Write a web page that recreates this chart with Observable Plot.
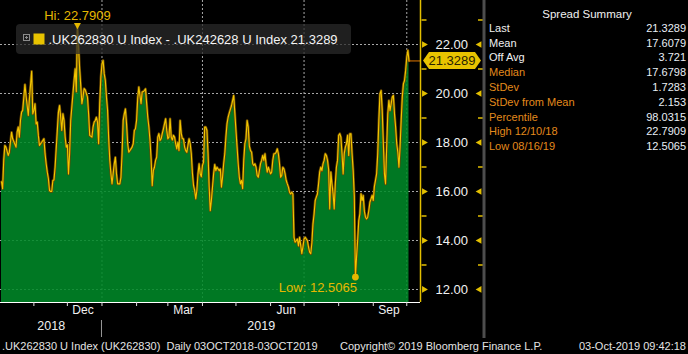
<!DOCTYPE html>
<html>
<head>
<meta charset="utf-8">
<script src="https://cdn.jsdelivr.net/npm/d3@7"></script>
<script src="https://cdn.jsdelivr.net/npm/@observablehq/plot@0.6"></script>
<style>
  html, body { margin: 0; padding: 0; background: #000; }
  #chart svg { display: block; }
</style>
</head>
<body>
<div id="chart"></div>
<script>
const FONT = '"Liberation Sans", Arial, sans-serif';

// ---- data (day offsets from startDate, spread values) ----
const startDate = "2018-10-03";
const dayOffsets = [
  0,1,2,3,4,6,7,9,10,13,
  14,15,16,17,18,19,21,22,24,25,
  27,28,29,30,31,32,33,34,36,37,
  38,39,40,41,42,43,44,45,46,47,
  48,50,51,52,53,54,55,56,57,58,
  59,60,61,62,64,65,66,67,68,70,
  71,72,73,74,75,77,78,79,81,82,
  83,84,85,86,87,88,89,90,91,92,
  93,94,95,96,97,98,99,100,101,102,
  103,104,106,107,108,109,110,111,112,113,
  114,116,117,118,119,120,121,122,123,124,
  125,126,127,128,129,130,131,132,133,134,
  135,136,137,138,139,140,141,142,143,144,
  145,146,147,148,149,150,151,152,153,154,
  155,156,157,158,159,160,161,162,163,164,
  165,166,167,168,169,170,171,172,173,174,
  175,176,177,178,179,180,181,182,183,184,
  185,186,187,188,189,190,191,192,193,194,
  195,196,197,198,199,200,201,202,203,204,
  205,206,207,208,209,210,211,212,213,214,
  215,216,217,218,219,220,221,222,223,224,
  225,226,227,228,229,230,231,232,233,234,
  235,236,237,238,239,240,241,242,243,244,
  245,246,247,248,249,250,251,252,253,254,
  255,256,257,258,259,260,261,262,263,264,
  265,266,267,268,269,270,271,272,273,274,
  275,276,277,278,279,280,281,282,283,284,
  285,286,287,288,289,290,291,292,293,294,
  295,296,297,298,299,300,301,302,303,304,
  305,306,307,308,309,310,311,312,313,314,
  315,316,317,318,319,320,321,322,323,324,
  325,326,327,328,329,330,331,332,333,334,
  335,336,337,338,339,340,341,342,343,344,
  345,346,347,348,349,350,351,352,353,354,
  355,356,357,358,359,360,361,362,363,364,365
];
const spreadValues = [
  16.4,16.11,17.27,17.88,17.81,17.47,17.6,18.42,18.15,17.81,
  18.42,18.63,18.22,18.9,19.24,19.31,20.37,19.9,19.1,19.78,
  20.91,19.17,19.31,19.58,18.76,18.83,18.29,17.88,18.01,18.08,
  18.15,17.54,17.13,16.79,16.52,16.04,16.0,16.0,16.45,16.47,
  16.99,18.49,19.24,19.51,19.03,18.49,19.17,18.9,18.22,17.81,
  17.9,16.72,17.54,18.9,19.99,20.53,21.01,20.07,22.7909,21.0,
  20.3,19.58,19.85,20.2,20.15,19.85,19.17,18.29,18.22,18.63,
  18.83,18.9,19.03,18.83,17.95,19.58,20.67,21.21,21.35,20.8,
  20.53,19.85,19.31,18.15,17.27,16.72,16.31,16.72,17.13,17.4,
  16.72,16.31,16.31,16.58,17.54,18.9,19.17,19.37,18.76,17.95,
  17.6,17.74,17.81,17.95,18.49,18.56,18.9,19.8,20.26,19.92,
  19.58,20.06,20.08,20.12,20.19,19.6,19.03,18.63,18.08,17.33,
  16.24,16.85,16.99,17.27,17.4,18.22,18.36,18.08,18.15,18.36,
  18.55,18.76,18.97,18.49,18.15,18.22,18.97,18.22,18.1,18.29,
  18.22,17.95,17.74,18.01,17.67,18.9,18.36,18.15,18.15,17.81,
  17.67,17.6,17.88,18.15,17.95,17.54,16.75,16.24,16.04,15.7,
  16.04,16.72,17.13,16.72,16.6,17.06,17.2,18.63,18.63,18.49,
  17.54,16.18,15.22,15.63,16.18,16.72,17.1,16.85,16.99,16.92,
  16.85,16.92,16.18,16.58,17.13,17.54,18.22,18.76,19.03,19.2,
  19.35,19.5,19.71,19.92,19.2,18.49,17.81,17.13,16.58,16.31,
  16.45,16.11,17.27,17.95,18.15,18.9,18.63,17.85,17.67,17.6,
  17.13,17.06,17.13,16.99,16.65,16.58,16.85,17.13,17.27,17.47,
  17.27,17.54,17.1,16.79,16.99,16.85,16.72,16.79,17.27,17.54,
  17.54,17.6,17.74,17.54,17.13,16.58,16.65,16.99,16.92,16.72,
  16.45,16.31,16.18,15.97,15.9,15.97,15.9,14.13,13.93,13.99,
  14.06,13.78,14.13,13.8,13.46,13.73,14.06,14.13,14.06,13.99,
  13.73,13.52,13.46,13.9,14.67,15.08,15.63,15.77,15.9,16.31,
  16.79,16.99,16.85,17.13,17.27,17.54,17.47,17.27,16.9,15.29,
  16.79,16.31,15.91,15.29,16.31,16.99,17.27,18.29,18.36,18.22,
  17.54,16.72,17.54,17.81,17.95,18.29,17.47,18.36,18.36,17.54,
  16.85,15.8,12.5065,13.3,14.0,14.81,15.09,15.91,15.63,15.84,
  15.2,14.95,14.88,14.95,15.22,15.56,15.7,15.84,15.63,16.2,
  16.45,16.72,17.54,18.9,19.99,20.12,19.31,18.0,16.72,16.31,
  17.81,19.17,19.71,19.3,19.58,19.85,19.92,19.17,18.63,17.95,
  17.6,16.99,17.81,18.9,19.85,20.39,20.53,20.94,21.48,21.76,21.3289
];

const yTicks = [12, 14, 16, 18, 20, 22];
const yMinorTicks = [13, 15, 17, 19, 21, 23];
const monthTicks = ["2018-11-01","2018-12-01","2019-01-01","2019-02-01","2019-03-01","2019-04-01",
                    "2019-05-01","2019-06-01","2019-07-01","2019-08-01","2019-09-01","2019-10-01"];
const gridDates = ["2019-01-01","2019-04-01","2019-07-01","2019-10-01"];
const monthLabelDates = ["2018-12-15","2019-03-15","2019-06-15","2019-09-15"];
const monthLabels = ["Dec","Mar","Jun","Sep"];
const yearLabels = ["2018","2019"];
const yearBreak = "2019-01-01";
const hiPoint = {date: "2018-12-10", value: 22.7909};
const lowPoint = {date: "2019-08-16", value: 12.5065};
const lastValue = 21.3289;
const seriesName = ".UK262830 U Index - .UK242628 U Index";
const summaryTitle = "Spread Summary";
const summaryLabels = ["Last","Mean","Off Avg","Median","StDev","StDev from Mean","Percentile","High 12/10/18","Low 08/16/19"];
const summaryValues = ["21.3289","17.6079","3.721","17.6798","1.7283","2.153","98.0315","22.7909","12.5065"];
const footerTexts = [".UK262830 U Index (UK262830)  Daily 03OCT2018-03OCT2019",
                     "Copyright\u00A9 2019 Bloomberg Finance L.P.",
                     "03-Oct-2019 09:42:18"];

// ---- build ----
const DAY = 864e5;
const t0 = Date.parse(startDate + "T00:00:00Z");
const data = dayOffsets.map((d, i) => ({date: new Date(t0 + d * DAY), value: spreadValues[i]}));
const last = data[data.length - 1];
const hi = {date: new Date(hiPoint.date), value: hiPoint.value};
const lo = {date: new Date(lowPoint.date), value: lowPoint.value};
const xDomain = [new Date(t0 - 0.9 * DAY), new Date(t0 + 375.3 * DAY)];
const yDomain = [11.469, 23.796];
const jan1 = new Date(yearBreak);
const yearMid = [new Date((+xDomain[0] + +jan1) / 2), new Date((+jan1 + +xDomain[1]) / 2)];

const gold = "#e6b800";
const axisYellow = "#e3bf00";
const dash = {draw(ctx) { ctx.moveTo(-2.5, 0); ctx.lineTo(2.5, 0); }};
const atRight = () => xDomain[1];

const chart = Plot.plot({
  width: 688, height: 354,
  marginLeft: 0, marginRight: 268, marginTop: 0, marginBottom: 52,
  style: {background: "#000", color: "#f0f0f0", fontFamily: FONT, fontSize: "12px", overflow: "visible"},
  x: {type: "utc", domain: xDomain, label: null},
  y: {domain: yDomain, label: null},
  marks: [
    Plot.ruleY(yTicks, {stroke: "#a8a8a8", strokeDasharray: "2,2"}),
    Plot.ruleX(gridDates.map(s => new Date(s)), {stroke: "#a8a8a8", strokeDasharray: "2,2"}),
    Plot.areaY(data, {x: "date", y1: yDomain[0], y2: "value", fill: "#008a28", fillOpacity: 0.87}),
    Plot.lineY(data, {x: "date", y: "value", stroke: "#6a4800", strokeWidth: 2.6}),
    Plot.lineY(data, {x: "date", y: "value", stroke: "#f2c600", strokeWidth: 1.1}),
    Plot.ruleY([last], {x1: "date", x2: atRight, y: "value", stroke: "#e07800"}),
    Plot.ruleY([yDomain[0]], {stroke: "#ffffff"}),
    Plot.ruleX([xDomain[1]], {stroke: axisYellow, strokeWidth: 1.5}),
    Plot.axisX(monthTicks.map(s => new Date(s)), {tickSize: 4, tickFormat: () => "", stroke: "#e0e0e0", label: null}),
    Plot.text(monthLabelDates.map(s => new Date(s)), {x: d => d, text: (d, i) => monthLabels[i], frameAnchor: "bottom", dy: 11, fontSize: 12, fill: "#f0f0f0"}),
    Plot.text(yearMid, {x: d => d, text: (d, i) => yearLabels[i], frameAnchor: "bottom", dy: 27, fontSize: 12.5, fill: "#f0f0f0"}),
    Plot.axisY(yTicks, {anchor: "right", tickSize: 0, tickPadding: 15, tickFormat: d3.format(".2f"), fontSize: 13, fill: "#f2f2f2", label: null}),
    Plot.dot(yTicks, {x: atRight, y: d => d, symbol: "triangle", rotate: 90, r: 2.5, fill: axisYellow, dx: 3.5}),
    Plot.dot(yTicks, {x: atRight, y: d => d, symbol: "triangle", rotate: -90, r: 2.5, fill: axisYellow, dx: 59}),
    Plot.dot(yMinorTicks, {x: atRight, y: d => d, symbol: dash, fill: "none", stroke: axisYellow, strokeWidth: 1.5, dx: 3.5}),
    Plot.dot(yMinorTicks, {x: atRight, y: d => d, symbol: dash, fill: "none", stroke: axisYellow, strokeWidth: 1.5, dx: 60}),
    Plot.dot([lo], {x: "date", y: "value", r: 3.4, fill: gold}),
    Plot.text([lo], {x: "date", y: "value", text: d => `Low: ${d.value}`, textAnchor: "end", dx: 1.5, dy: 11, fill: gold, fontSize: 13}),
    Plot.dot([hi], {x: "date", y: "value", symbol: "triangle", rotate: 180, r: 2.6, fill: gold}),
    Plot.text([hi], {x: "date", y: "value", text: d => `Hi: ${d.value}`, dy: -9, fill: gold, fontSize: 13})
  ]
});
document.getElementById("chart").appendChild(chart);

// ---- decorations using the plot's scales ----
const svg = d3.select(chart);
const xS = chart.scale("x"), yS = chart.scale("y");
const xR = xS.apply(xDomain[1]);
const hiNodes = [...chart.children].slice(-2);
const addText = (x, y, txt, anchor, fill, size) =>
  svg.append("text").attr("x", x).attr("y", y).attr("text-anchor", anchor).attr("fill", fill)
    .style("font", `${size}px ${FONT}`).text(txt);

// legend box (semi-transparent, over the plot)
const lg = svg.append("g");
lg.append("rect").attr("x", 16).attr("y", 24).attr("width", 335).attr("height", 30).attr("rx", 4)
  .attr("fill", "#2a2a2a").attr("fill-opacity", 0.74);
lg.append("rect").attr("x", 23.5).attr("y", 34.5).attr("width", 6).attr("height", 6)
  .attr("fill", "none").attr("stroke", "#8c8c8c");
lg.append("path").attr("d", "M25,37.5H28M26.5,36V39").attr("stroke", "#8c8c8c");
lg.append("rect").attr("x", 33.5).attr("y", 33.5).attr("width", 11).attr("height", 11).attr("fill", "#e8c300");
lg.append("text").attr("x", 48.5).attr("y", 44).attr("text-anchor", "start").attr("fill", "#f4f4f4")
  .style("font", `13px ${FONT}`).text(`${seriesName} ${lastValue}`);
hiNodes.forEach(n => chart.appendChild(n));

// current value tag
const yl = yS.apply(lastValue);
svg.append("path")
  .attr("d", `M${xR + 3},${yl} L${xR + 9},${yl - 8.5} L${xR + 55},${yl - 8.5} L${xR + 61},${yl} L${xR + 55},${yl + 8.5} L${xR + 9},${yl + 8.5} Z`)
  .attr("fill", "#e8c300");
addText(xR + 32, yl + 4.5, lastValue.toFixed(4), "middle", "#2b2300", 13);

// panel separator
svg.append("rect").attr("x", 482.5).attr("y", 0).attr("width", 3).attr("height", 338).attr("fill", "#4d4d4d");

// year separator
const xj = xS.apply(jan1);
svg.append("line").attr("x1", xj).attr("x2", xj).attr("y1", 320).attr("y2", 337).attr("stroke", "#9a9a9a");

// summary panel
addText(587, 18, summaryTitle, "middle", "#f0f0f0", 11.5);
summaryLabels.forEach((lab, i) => {
  const y = 31.7 + 14.8 * i;
  addText(489, y, lab, "start", i < 3 ? "#f0f0f0" : "#e38a1c", 11);
  addText(686, y, summaryValues[i], "end", "#e8eef5", 11);
});

// footer
const fx = [2, 340, 686], fa = ["start", "start", "end"];
footerTexts.forEach((t, i) => addText(fx[i], 350, t, fa[i], "#e4e4e4", 11));
</script>
</body>
</html>
